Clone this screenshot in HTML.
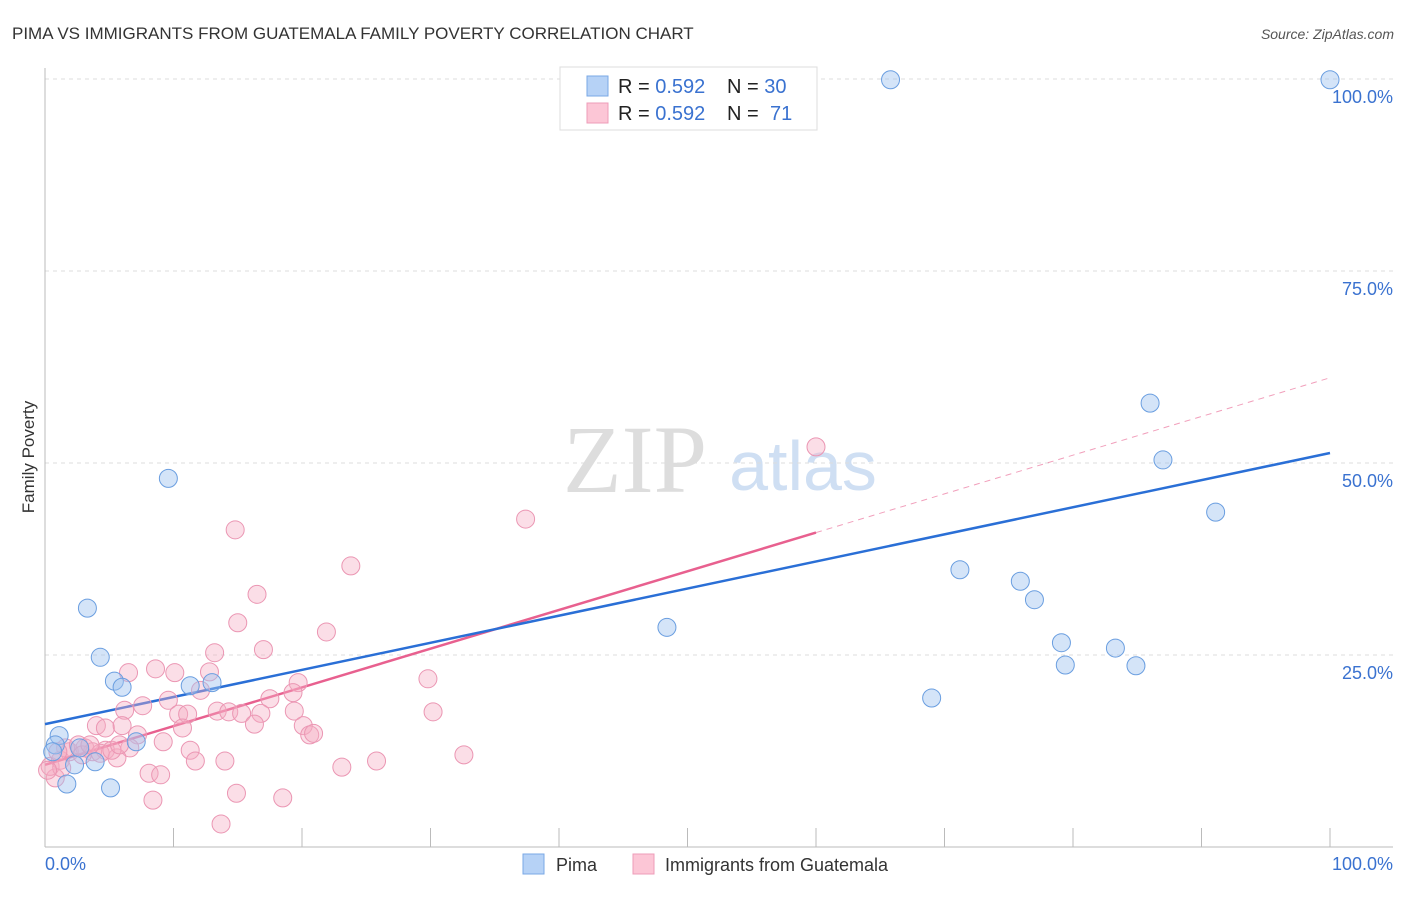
<!DOCTYPE html>
<html><head><meta charset="utf-8"><style>
body{margin:0;background:#fff;font-family:"Liberation Sans",sans-serif;}
svg text{font-family:"Liberation Sans",sans-serif;}
</style></head><body>
<svg id="chart" width="1406" height="892" viewBox="0 0 1406 892">
<text x="12" y="39" font-size="17" fill="#333">PIMA VS IMMIGRANTS FROM GUATEMALA FAMILY POVERTY CORRELATION CHART</text>
<text x="1394" y="39" font-size="14" fill="#555" font-style="italic" text-anchor="end">Source: ZipAtlas.com</text>
<text x="34" y="457" font-size="17" fill="#333" text-anchor="middle" transform="rotate(-90 34 457)">Family Poverty</text>
<g>
<text x="635" y="492" font-size="96" fill="#ddd" text-anchor="middle" style="font-family:'Liberation Serif',serif">ZIP</text>
<text x="803" y="490" font-size="70" fill="#cfdff3" text-anchor="middle">atlas</text>
</g>
<g id="grid"></g><g id="axes"></g><g id="lines"></g><g id="points"></g>
<g>
<rect x="560" y="67" width="257" height="63" fill="#fff" stroke="#ddd"/>
<rect x="587" y="76" width="21" height="20" fill="#b6d2f6" stroke="#7aa8e6"/>
<rect x="587" y="103" width="21" height="20" fill="#fcc6d6" stroke="#ee9cb8"/>
<text x="618" y="93" font-size="20" fill="#222">R = <tspan fill="#3a72d0">0.592</tspan></text>
<text x="727" y="93" font-size="20" fill="#222">N = <tspan fill="#3a72d0">30</tspan></text>
<text x="618" y="120" font-size="20" fill="#222">R = <tspan fill="#3a72d0">0.592</tspan></text>
<text x="727" y="120" font-size="20" fill="#222">N = <tspan x="770" fill="#3a72d0">71</tspan></text>
</g>
<g>
<rect x="523" y="854" width="21" height="20" fill="#b6d2f6" stroke="#7aa8e6"/>
<text x="556" y="871" font-size="18" fill="#333">Pima</text>
<rect x="633" y="854" width="21" height="20" fill="#fcc6d6" stroke="#ee9cb8"/>
<text x="665" y="871" font-size="18" fill="#333">Immigrants from Guatemala</text>
</g>
</svg>
<script>
const yTicks=[25,50,75,100];
const yTickLabels=["25.0%","50.0%","75.0%","100.0%"];
const xTicks=[10,20,30,40,50,60,70,80,90,100];
const pimaX=[65.8,100,86.0,87.0,91.1,9.6,71.2,75.9,77.0,48.4,3.3,4.3,5.4,6.0,11.3,13.0,69.0,79.1,79.4,83.3,84.9,1.1,0.8,0.6,2.3,3.9,1.7,5.1,7.1,2.7];
const pimaY=[99.9,99.9,57.8,50.4,43.6,48.0,36.1,34.6,32.2,28.6,31.1,24.7,21.6,20.8,21.0,21.4,19.4,26.6,23.7,25.9,23.6,14.5,13.3,12.4,10.7,11.1,8.2,7.7,13.7,12.9];
const guaX=[60.0,37.4,14.8,23.8,16.5,15.0,21.9,13.2,17.0,6.5,8.6,10.1,12.8,19.7,29.8,12.1,9.6,19.3,17.5,7.6,6.2,10.4,11.1,13.4,14.3,15.3,16.8,19.4,30.2,4.0,4.7,6.0,10.7,16.3,20.1,20.6,20.9,7.2,9.2,11.3,4.7,6.6,5.6,14.0,11.7,32.6,25.8,23.1,8.1,9.0,14.9,18.5,8.4,13.7,0.8,0.4,1.2,1.9,3.1,3.7,1.6,4.3,2.6,5.2,5.8,2.9,1.3,0.2,3.5,1.0];
const guaY=[52.1,42.7,41.3,36.6,32.9,29.2,28.0,25.3,25.7,22.7,23.2,22.7,22.8,21.4,21.9,20.4,19.1,20.1,19.3,18.4,17.8,17.3,17.3,17.7,17.6,17.4,17.4,17.7,17.6,15.8,15.5,15.8,15.5,16.0,15.8,14.6,14.8,14.6,13.7,12.6,12.6,12.9,11.6,11.2,11.2,12.0,11.2,10.4,9.6,9.4,7.0,6.4,6.1,3.0,9.0,10.5,11.3,12.4,12.9,12.4,12.9,12.2,13.3,12.6,13.3,12.0,10.3,10.0,13.3,12.4];
const pimaLine=[16.0,51.3];
const guaLine=[10.7,61.1];
const guaSolidEnd=60;
const NS="http://www.w3.org/2000/svg";
const X=v=>45+v*12.85, Y=v=>847-v*7.68;
function mk(t,a,p){const e=document.createElementNS(NS,t);for(const k in a)e.setAttribute(k,a[k]);p.appendChild(e);return e;}
const grid=document.getElementById('grid'),axes=document.getElementById('axes'),lines=document.getElementById('lines'),pts=document.getElementById('points');
yTicks.forEach((t,i)=>{
 const l=mk('line',{x1:45,x2:1393,y1:Y(t),y2:Y(t),stroke:'#ddd','stroke-dasharray':'4 4'},grid);
 
 
 const tx=mk('text',{x:1393,y:Y(t)+24,'font-size':18,fill:'#3a72d0','text-anchor':'end'},axes);
 tx.textContent=yTickLabels[i];
 
 
});
let a=mk('line',{x1:45,x2:45,y1:68,y2:847,stroke:'#bbb'},axes);


a=mk('line',{x1:45,x2:1393,y1:847,y2:847,stroke:'#bbb'},axes);


xTicks.forEach(t=>{const l=mk('line',{x1:X(t),x2:X(t),y1:828,y2:847,stroke:'#bbb'},axes);
 
 });
let t0=mk('text',{x:45,y:870,'font-size':18,fill:'#3a72d0'},axes);t0.textContent='0.0%';


t0=mk('text',{x:1393,y:870,'font-size':18,fill:'#3a72d0','text-anchor':'end'},axes);t0.textContent='100.0%';


function circ(xs,ys,fill,stroke,name){xs.forEach((x,i)=>{const c=mk('circle',{cx:X(x),cy:Y(ys[i]),r:9,fill:fill,stroke:stroke,'stroke-width':1},pts);
 
 });}
circ(guaX,guaY,'rgba(246,172,196,0.4)','#eb96b3','point-guatemala');
circ(pimaX,pimaY,'rgba(160,196,240,0.45)','#6a9ee0','point-pima');
const gy=x=>guaLine[0]+(guaLine[1]-guaLine[0])*x/100;
let l=mk('line',{x1:X(guaSolidEnd),y1:Y(gy(guaSolidEnd)),x2:X(100),y2:Y(gy(100)),stroke:'#e8608f','stroke-width':1,'stroke-dasharray':'6 5',opacity:0.6},lines);


l=mk('line',{x1:X(0),y1:Y(gy(0)),x2:X(guaSolidEnd),y2:Y(gy(guaSolidEnd)),stroke:'#e8608f','stroke-width':2.5},lines);


l=mk('line',{x1:X(0),y1:Y(pimaLine[0]),x2:X(100),y2:Y(pimaLine[1]),stroke:'#2a6fd6','stroke-width':2.5},lines);


</script>
</body></html>
